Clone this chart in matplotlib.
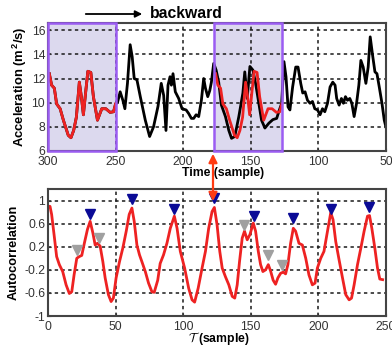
import numpy as np
import matplotlib
matplotlib.use("Agg")
import matplotlib.pyplot as plt
from matplotlib.patches import Rectangle, FancyArrowPatch

plt.rcParams.update({
    "font.family": ["Liberation Sans", "DejaVu Sans"],
    "font.size": 8.5, "mathtext.fontset": "cm",
})
RED = "#ee2222"; NAVY = "#0a0a96"; GREYTRI = "#a0a0a0"
PURPLE = "#9b5cf2"; LAV = "#dcd9ee"; TXT = "#333333"

# ---- top panel: template (red window) and full acceleration record
tmpl_t = [299, 297.3, 295.3, 293.6, 291, 288.6, 285, 283, 281, 279, 276.8,
          275.3, 273.8, 272, 270.5, 268.3, 266.4, 263.4, 260.2, 257.2, 254,
          251.5, 250]
tmpl_v = [12.4, 11.45, 11.2, 9.9, 9.5, 8.55, 7.3, 7.1, 7.7, 8.8, 11.7,
          10.5, 9.0, 11.0, 12.6, 12.5, 10.5, 8.55, 9.5, 9.5, 9.2, 9.25, 9.9]
rest_t = [248.6, 246.6, 244.6, 243.1, 241.2, 239.2, 237.7, 236.2, 234.2,
          231.7, 228, 224.8, 221.9, 218.6, 216.2, 214.4, 212.7, 211.2, 209.7,
          208.7, 207.5, 205.8, 203.3, 200.8, 197.8, 195.9, 193.9, 192.2,
          190.4, 188.5, 186.5, 184.8, 183.5, 181.8, 180.3, 179.1, 177.4,
          175.6, 173.7, 171.7, 168.7, 166.2, 164.2, 161.8, 158.8, 155.8,
          154.4, 152.6, 150.6, 148.4, 146.4, 144, 142, 139.5, 136.6, 133.6,
          130.8, 129.1, 127.1, 125.4, 123.9, 122.4, 121, 119, 116.7, 115, 113,
          111.5, 109.8, 108, 106.1, 104.3, 102.6, 100.6, 98.7, 96.9, 95.2,
          93.2, 91.3, 89.3, 87.6, 86.4, 84.6, 82.9, 81.4, 79.9, 78.4, 76.7,
          75.2, 73.5, 71.7, 70, 68.5, 66.8, 64.8, 63.1, 61.6, 59.8, 58.1,
          56.6, 54.9, 52.9, 51.2, 50]
rest_v = [10.0, 10.9, 10.2, 9.5, 11.6, 14.8, 13.8, 12.0, 11.9,
          10.5, 8.55, 7.2, 8.0, 9.7, 11.6, 10.6, 7.7, 11.45, 12.15,
          11.45, 12.4, 10.9, 10.35, 9.5, 9.4, 9.1, 8.7, 8.7,
          9.0, 8.85, 10.2, 12.0, 11.2, 10.5, 11.0, 11.7, 13.25,
          12.7, 11.7, 9.8, 8.85, 7.7, 7.05, 7.2, 8.85, 10.8,
          12.55, 10.35, 13.0, 12.7, 11.6, 9.95, 8.55, 7.9, 8.3, 8.6,
          8.7, 9.3, 9.95, 13.4, 12.15, 9.65, 9.4, 11.3, 12.95, 12.95, 11.6,
          10.8, 10.9, 10.2, 9.95, 10.1, 9.5, 9.4, 9.0, 9.5, 9.25,
          9.95, 11.3, 11.7, 11.45, 10.35, 9.8, 10.35, 9.95, 10.5, 10.2, 10.35,
          9.95, 8.85, 9.95, 11.45, 13.5, 12.95, 11.6, 12.95, 15.45, 13.9, 12.55,
          12.4, 11.3, 9.95, 8.55, 8.0]
window_starts = [300, 177]
window_len = 50

# ---- bottom panel: autocorrelation
lag = [0.6, 1.5, 2.7, 4.5, 6.4, 8.4, 10.9, 13.4, 15.8, 17.6, 19.3, 21.3, 23.2,
       25, 26.9, 29.2, 31.2, 33.2, 34.9, 36.6, 38.6, 40.6, 42.3, 44.7, 46.7,
       48.4, 50.4, 52.9, 55.4, 57.9, 60.1, 62.1, 63.8, 65.8, 67.7, 69.5, 72,
       74.4, 76.9, 78.6, 81.2, 83, 85.5, 88, 90.5, 93.5, 95.5, 97.9, 101.1,
       104.1, 106.6, 108.5, 111.1, 114, 116.5, 118.9, 121.4, 123.1, 125.1,
       127.1, 128.9, 131.3, 133.8, 136.3, 138.2, 140, 141.7, 143.7, 145.4,
       147.4, 149.4, 151.9, 153.6, 155.6, 157.3, 159, 161, 163, 164.7, 166.6,
       168.4, 170.1, 172.1, 174.1, 175.8, 177.5, 179.5, 181.5, 183.2, 185.7,
       188.2, 190.7, 193.1, 195.6, 197.6, 199.3, 201.8, 204.2, 206.8, 209.2,
       210.9, 212.9, 215.4, 217.9, 220.3, 222.8, 224.6, 226.5, 229, 231.5,
       233.9, 236.4, 237.9, 239.6, 241.8, 243.8, 245.5, 247.6]
acf = [0.9, 0.9, 0.76, 0.41, 0.03, -0.11, -0.23, -0.46, -0.61, -0.58, -0.29,
       0.0, 0.03, 0.05, 0.26, 0.5, 0.64, 0.44, 0.23, 0.26, 0.21, -0.06, -0.34,
       -0.63, -0.75, -0.69, -0.34, -0.06, 0.18, 0.47, 0.76, 0.87, 0.64, 0.23,
       0.06, -0.06, -0.23, -0.43, -0.58, -0.59, -0.38, -0.09, 0.06, 0.26,
       0.52, 0.73, 0.52, 0.12, -0.17, -0.52, -0.72, -0.76, -0.52, -0.17, 0.12,
       0.52, 0.81, 0.88, 0.58, 0.12, -0.17, -0.32, -0.46, -0.66, -0.69, -0.46,
       -0.06, 0.35, 0.47, 0.32, 0.41, 0.61, 0.47, 0.12, -0.11, -0.23, -0.2,
       -0.11, -0.22, -0.38, -0.45, -0.34, -0.26, -0.24, -0.27, -0.11, 0.26,
       0.52, 0.47, 0.26, 0.23, 0.0, -0.29, -0.46, -0.43, -0.17, 0.0, 0.12,
       0.47, 0.79, 0.67, 0.29, -0.03, -0.34, -0.63, -0.72, -0.69, -0.46,
       -0.11, 0.18, 0.47, 0.73, 0.74, 0.52, 0.18, -0.17, -0.36, -0.37]
peak_lag = [31.2, 62.3, 93.5, 123, 152.1, 181.5, 209.7, 237.2]
peak_y = [0.76, 1.02, 0.86, 1.05, 0.74, 0.70, 0.86, 0.88]
minor_lag = [21.7, 38, 144.9, 163, 173.4]
minor_y = [0.14, 0.36, 0.58, 0.06, -0.11]

fig = plt.figure(figsize=(3.92, 3.46), dpi=100)
ax1 = fig.add_axes([0.1224, 0.5636, 0.862, 0.370])
ax2 = fig.add_axes([0.1224, 0.0867, 0.862, 0.367])

def style(ax):
    ax.grid(True, ls=(0, (2.2, 2.2)), lw=1.1, color="#1a1a1a")
    ax.tick_params(length=2.5, direction="in", colors=TXT, labelsize=8.7,
                   pad=2)
    ax.tick_params(axis="x", pad=3.5)
    for s in ax.spines.values():
        s.set_color("#444444"); s.set_linewidth(1.5)
        s.set_zorder(4)

# top
full_t = tmpl_t + rest_t
full_v = tmpl_v + rest_v
for st in window_starts:
    ax1.axvspan(st - window_len, st, color=LAV, zorder=0.2, lw=0)
ax1.set_axisbelow(True)
ax1.plot(full_t, full_v, color="k", lw=2.0, zorder=2)
for st in window_starts:
    shift = window_starts[0] - st
    ax1.plot(np.array(tmpl_t) - shift, tmpl_v, color=RED, lw=2.0, zorder=3)
    ax1.add_patch(Rectangle((st - window_len, 6), window_len, 10.6,
                            fill=False, ec=PURPLE, lw=1.8, zorder=5,
                            clip_on=False))
ax1.set_xlim(300, 50)
ax1.set_ylim(6, 16.6)
ax1.set_xticks([300, 250, 200, 150, 100, 50])
ax1.set_yticks([6, 8, 10, 12, 14, 16])
ax1.set_ylabel("Acceleration (m$^\\mathregular{2}$/s)", fontweight="bold",
               fontsize=9.4, labelpad=2)
style(ax1)

# bottom
ax2.set_axisbelow(True)
ax2.plot(lag, acf, color=RED, lw=2.0, zorder=2)
ax2.plot(peak_lag, peak_y, "v", color=NAVY, ms=7.8, mec=NAVY, zorder=3)
ax2.plot(minor_lag, minor_y, "v", color=GREYTRI, ms=7.8, mec=GREYTRI,
         zorder=3)
ax2.set_xlim(0, 250)
ax2.set_ylim(-1, 1.2)
ax2.set_xticks([0, 50, 100, 150, 200, 250])
ax2.set_yticks([1, 0.6, 0.2, -0.2, -0.6, -1])
ax2.set_yticklabels(["1", "0.6", "0.2", "-0.2", "-0.6", "-1"])
ax2.set_ylabel("Autocorrelation", fontweight="bold", fontsize=9.2,
               labelpad=3)
style(ax2)

fig.text(223/392, 1 - 173/346, "Time (sample)", ha="center", va="center",
         fontweight="bold", fontsize=8.8)
fig.text(219/392, 1 - 338.5/346, "$\\mathcal{T}$ (sample)", ha="center",
         va="center", fontweight="bold", fontsize=8.8)

# annotations
fig.add_artist(FancyArrowPatch((83/392, 1 - 14/346), (145/392, 1 - 14/346),
               transform=fig.transFigure,
               arrowstyle="-|>,head_length=4,head_width=2",
               lw=1.3, color="k"))
fig.text(150/392, 1 - 14/346, "backward", ha="left", va="center",
         fontweight="bold", fontsize=11.3)
fig.add_artist(FancyArrowPatch((213/392, 1 - 151/346), (213/392, 1 - 204/346),
               transform=fig.transFigure,
               arrowstyle="<|-|>,head_length=5,head_width=2.5",
               lw=1.6, color="#ff3b12", zorder=10))

fig.savefig("out.png", dpi=100)
